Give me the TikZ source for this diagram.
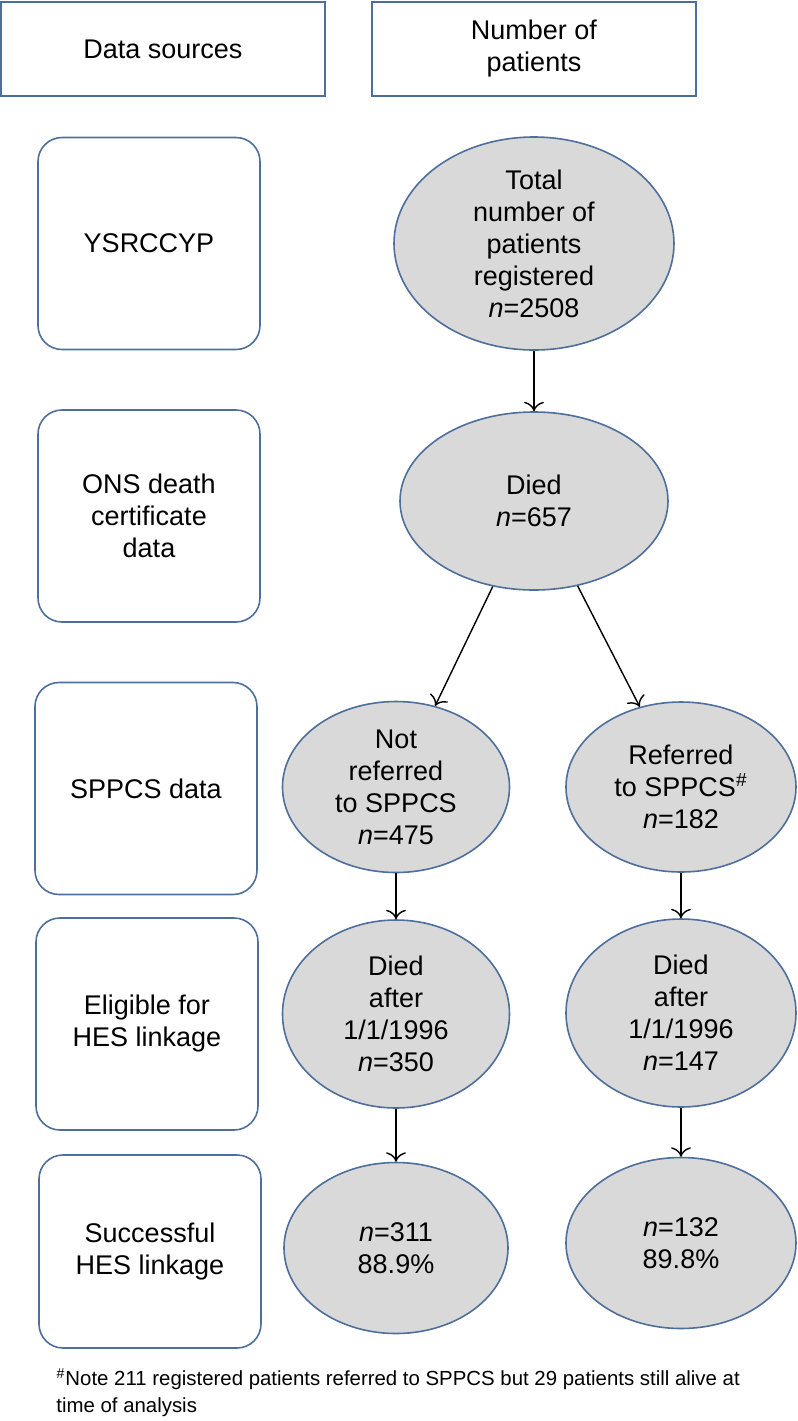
\documentclass[tikz,border=0pt]{standalone}
\usepackage{fontspec}
\setmainfont{Liberation Sans}
\usepackage{tikz}
\usetikzlibrary{shapes.geometric}
\usetikzlibrary{arrows.meta}
\definecolor{boxblue}{RGB}{78,110,155}
\definecolor{cellgray}{RGB}{217,217,217}
\tikzstyle{header}=[draw=boxblue,line width=0.8pt,minimum width=162pt,minimum height=47pt,align=center,font=\fontsize{13.5}{16}\selectfont]
\tikzstyle{source}=[draw=boxblue,line width=0.8pt,rounded corners=12pt,minimum width=111pt,minimum height=106pt,align=center,font=\fontsize{13.5}{16}\selectfont]
\tikzstyle{count}=[ellipse,draw=boxblue,line width=0.8pt,fill=cellgray,inner sep=0pt,align=center,font=\fontsize{13.5}{16}\selectfont]
\tikzstyle{flow}=[-{To[scale=1.5]},line width=0.7pt]

\begin{document}
\begin{tikzpicture}[x=0.5pt,y=-0.5pt]
      \useasboundingbox (0,0) rectangle (798,1421);

      \node[header] (head1) at (163,49) {Data sources};
      \node[header] (head2) at (534,49) {Number of\\patients};

      \node[source] (ysr) at (149,243.5) {YSRCCYP};
      \node[source] (ons) at (149,516) {ONS death\\certificate\\data};
      \node[source] (sppcs) at (146,788.5) {SPPCS data};
      \node[source] (elig) at (147,1024) {Eligible for\\HES linkage};
      \node[source,minimum height=96.5pt] (succ) at (150,1251.5) {Successful\\HES linkage};

      \node[count,minimum width=140pt,minimum height=106.5pt] (total) at (534,243.5) {Total\\number of\\patients\\registered\\\textit{n}=2508};
      \node[count,minimum width=134pt,minimum height=89pt] (died) at (534,501) {Died\\\textit{n}=657};
      \node[count,minimum width=113.5pt,minimum height=85.5pt] (notref) at (396,787) {Not\\referred\\to SPPCS\\\textit{n}=475};
      \node[count,minimum width=115pt,minimum height=85pt] (ref) at (681,787) {Referred\\to SPPCS\textsuperscript{\textit{\#}}\\\textit{n}=182};
      \node[count,minimum width=113.5pt,minimum height=94pt] (dl) at (396,1014) {Died\\after\\1/1/1996\\\textit{n}=350};
      \node[count,minimum width=115pt,minimum height=94pt] (dr) at (681,1013) {Died\\after\\1/1/1996\\\textit{n}=147};
      \node[count,minimum width=112pt,minimum height=85.5pt] (sl) at (396,1248) {\textit{n}=311\\88.9\%};
      \node[count,minimum width=115pt,minimum height=85.5pt] (sr) at (681,1243) {\textit{n}=132\\89.8\%};

      \draw[flow] (total) -- (died);
      \draw[flow] (died) -- (notref);
      \draw[flow] (died) -- (ref);
      \draw[flow] (notref) -- (dl);
      \draw[flow] (ref) -- (dr);
      \draw[flow] (dl) -- (sl);
      \draw[flow] (dr) -- (sr);

      \node[anchor=north west,align=left,inner sep=0pt,font=\fontsize{10.2}{13.5}\selectfont] (note) at (56,1368)
        {\textsuperscript{\textit{\#}}Note 211 registered patients referred to SPPCS but 29 patients still alive at\\time of analysis};

    \end{tikzpicture}
\end{document}
